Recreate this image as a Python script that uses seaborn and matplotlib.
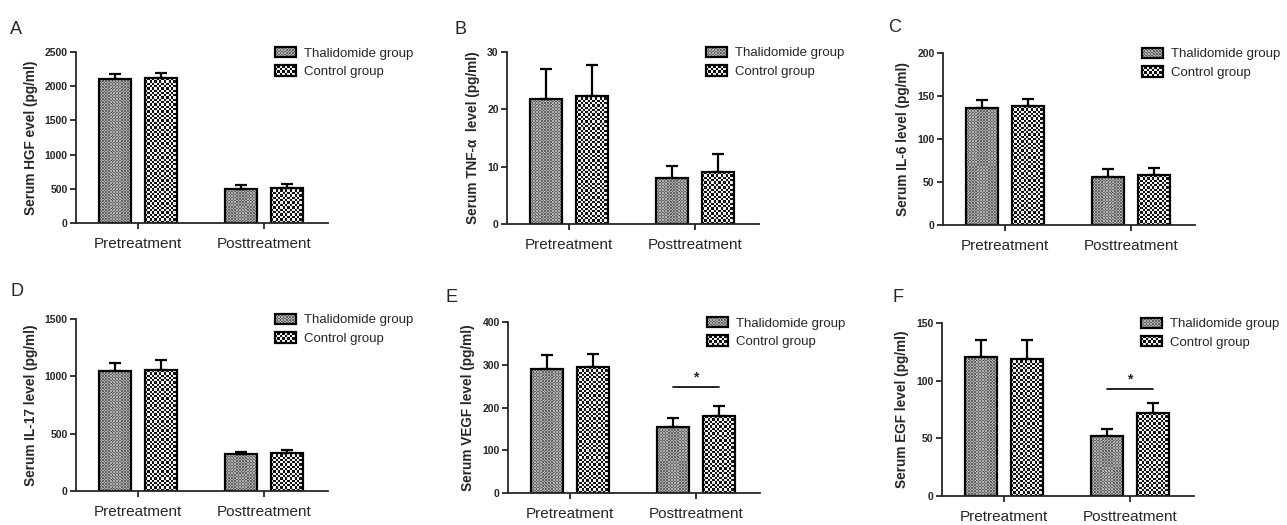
import numpy as np
import pandas as pd
import seaborn as sns
import matplotlib.pyplot as plt
from matplotlib.colors import ListedColormap
from matplotlib.image import BboxImage
from matplotlib.legend_handler import HandlerBase
from matplotlib.patches import Patch, Rectangle
from matplotlib.transforms import Bbox, TransformedBbox

categories = ["Pretreatment", "Posttreatment"]
groups = ["Thalidomide group", "Control group"]

hgf_thal = [2100, 492]
hgf_thal_sd = [73, 59]
hgf_ctrl = [2115, 517]
hgf_ctrl_sd = [83, 48]

tnf_thal = [21.8, 8.1]
tnf_thal_sd = [5.3, 2.1]
tnf_ctrl = [22.4, 9.0]
tnf_ctrl_sd = [5.3, 3.2]

il6_thal = [136.6, 55.7]
il6_thal_sd = [9.2, 8.9]
il6_ctrl = [138.1, 58.0]
il6_ctrl_sd = [8.1, 8.2]

il17_thal = [1046, 320]
il17_thal_sd = [72, 24]
il17_ctrl = [1054, 332]
il17_ctrl_sd = [85, 23]

vegf_thal = [291, 155]
vegf_thal_sd = [31, 20]
vegf_ctrl = [294, 180]
vegf_ctrl_sd = [32, 24]

egf_thal = [120.4, 52.2]
egf_thal_sd = [14.8, 5.5]
egf_ctrl = [119.2, 71.7]
egf_ctrl_sd = [16.3, 8.7]

panel_letters = ["A", "B", "C", "D", "E", "F"]
ylabels = ["Serum HGF evel (pg/ml)", "Serum TNF-\u03b1  level (pg/ml)",
           "Serum IL-6 level (pg/ml)", "Serum IL-17 level (pg/ml)",
           "Serum VEGF level (pg/ml)", "Serum EGF level (pg/ml)"]
ymax = [2500, 30, 200, 1500, 400, 150]
ystep = [500, 10, 50, 500, 100, 50]
# height of the "*" bracket over posttreatment (None = no bracket)
sig_line = [None, None, None, None, 248, 93]

panels = [
    (hgf_thal, hgf_thal_sd, hgf_ctrl, hgf_ctrl_sd),
    (tnf_thal, tnf_thal_sd, tnf_ctrl, tnf_ctrl_sd),
    (il6_thal, il6_thal_sd, il6_ctrl, il6_ctrl_sd),
    (il17_thal, il17_thal_sd, il17_ctrl, il17_ctrl_sd),
    (vegf_thal, vegf_thal_sd, vegf_ctrl, vegf_ctrl_sd),
    (egf_thal, egf_thal_sd, egf_ctrl, egf_ctrl_sd),
]

# layout in pixels: axes (left, top, bottom), panel letter (x, y)
W, H = 1287, 525
boxes = [(76, 52, 223), (507, 52, 224), (943, 53, 225),
         (76, 319, 491), (508, 322, 493), (942, 323, 496)]
letter_pos = [(10, 30), (455, 30), (888, 28), (10, 292), (445, 297), (892, 298)]
ax_w = 252

# checkerboard fills: (cell size px, dark, light)
fills = {
    "Thalidomide group": (1.5, "#626262", "#b2b2b2"),
    "Control group": (2.3, "#111111", "#f4f4f4"),
}


def checker(nx, ny):
    return np.indices((ny, nx)).sum(axis=0) % 2


def fill_bar(ax, bar, cell, dark, light):
    x0, y0 = bar.get_x(), bar.get_y()
    x1, y1 = x0 + bar.get_width(), y0 + bar.get_height()
    (px0, py0), (px1, py1) = ax.transData.transform([(x0, y0), (x1, y1)])
    nx = max(1, int(round((px1 - px0) / cell)))
    ny = max(1, int(round((py1 - py0) / cell)))
    im = ax.imshow(checker(nx, ny), extent=(x0, x1, y0, y1),
                   cmap=ListedColormap([light, dark]), interpolation="nearest",
                   aspect="auto", zorder=0.9)
    im.set_clip_path(bar)
    bar.set_facecolor("none")


class CheckerHandler(HandlerBase):
    def __init__(self, cell, dark, light):
        super().__init__()
        self.cell, self.dark, self.light = cell, dark, light

    def create_artists(self, legend, orig_handle, xdescent, ydescent,
                       width, height, fontsize, trans):
        bb = TransformedBbox(Bbox.from_bounds(-xdescent, -ydescent, width, height),
                             trans)
        nx = max(1, int(round(width * 100 / 72 / self.cell)))
        ny = max(1, int(round(height * 100 / 72 / self.cell)))
        img = BboxImage(bb, cmap=ListedColormap([self.light, self.dark]),
                        interpolation="nearest")
        img.set_data(checker(nx, ny))
        rect = Rectangle((-xdescent, -ydescent), width, height, facecolor="none",
                         edgecolor="black", linewidth=1.6, transform=trans)
        return [img, rect]


sns.set_style("ticks")
plt.rcParams["font.family"] = ["Liberation Sans", "DejaVu Sans"]
plt.rcParams["axes.linewidth"] = 1.3

fig = plt.figure(figsize=(W / 100, H / 100), dpi=100)

for i, (thal, thal_sd, ctrl, ctrl_sd) in enumerate(panels):
    left, top, bottom = boxes[i]
    ax = fig.add_axes([left / W, 1 - bottom / H, ax_w / W, (bottom - top) / H])

    df = pd.DataFrame({
        "phase": categories * 2,
        "group": [groups[0]] * 2 + [groups[1]] * 2,
        "value": thal + ctrl,
        "sd": thal_sd + ctrl_sd,
    })
    sns.barplot(data=df, x="phase", y="value", hue="group", order=categories,
                hue_order=groups, errorbar=None, width=0.73, gap=0.3,
                edgecolor="black", linewidth=1.6, legend=False, ax=ax)
    ax.set_xlim(-0.49, 1.51)
    ax.set_ylim(0, ymax[i])

    centers = {}
    for grp, cont in zip(groups, ax.containers):
        xs = []
        for bar in cont.patches:
            fill_bar(ax, bar, *fills[grp])
            xs.append(bar.get_x() + bar.get_width() / 2)
        centers[grp] = xs
        sub = df[df["group"] == grp]
        ax.errorbar(xs, sub["value"], yerr=[np.zeros(len(sub)), sub["sd"]],
                    fmt="none", ecolor="black", elinewidth=1.6, capsize=4,
                    capthick=1.6, zorder=1.1)

    if sig_line[i] is not None:
        x0 = centers[groups[0]][1]
        x1 = centers[groups[1]][1]
        ax.plot([x0, x1], [sig_line[i]] * 2, color="black", lw=1.2)
        ax.text((x0 + x1) / 2, sig_line[i] + ymax[i] * 0.012, "*", ha="center",
                va="bottom", fontsize=10, fontweight="bold")

    ax.set_xlim(-0.49, 1.51)
    ax.set_ylim(0, ymax[i])
    ax.set_yticks(np.arange(0, ymax[i] + 1, ystep[i]))
    ax.set_xlabel("")
    ax.set_ylabel(ylabels[i], fontsize=9.8, fontweight="bold", labelpad=5)
    ax.tick_params(axis="y", labelsize=7.5, width=1.3, length=4, pad=2)
    ax.tick_params(axis="x", labelsize=11, width=1.3, length=4, pad=6)
    for lab in ax.get_yticklabels():
        lab.set_fontweight("bold")
    sns.despine(ax=ax)

    handles = [Patch(label=grp) for grp in groups]
    ax.legend(handles=handles, loc="upper left", bbox_to_anchor=(0.79, 1.03),
              frameon=False, fontsize=9.5, handlelength=1.6, handleheight=0.8,
              handletextpad=0.6, labelspacing=0.45, borderpad=0,
              borderaxespad=0,
              handler_map={h: CheckerHandler(*fills[h.get_label()])
                           for h in handles})

    lx, ly = letter_pos[i]
    fig.text(lx / W, 1 - ly / H, panel_letters[i], fontsize=13,
             ha="left", va="center")

fig.savefig("out.png", dpi=100)
